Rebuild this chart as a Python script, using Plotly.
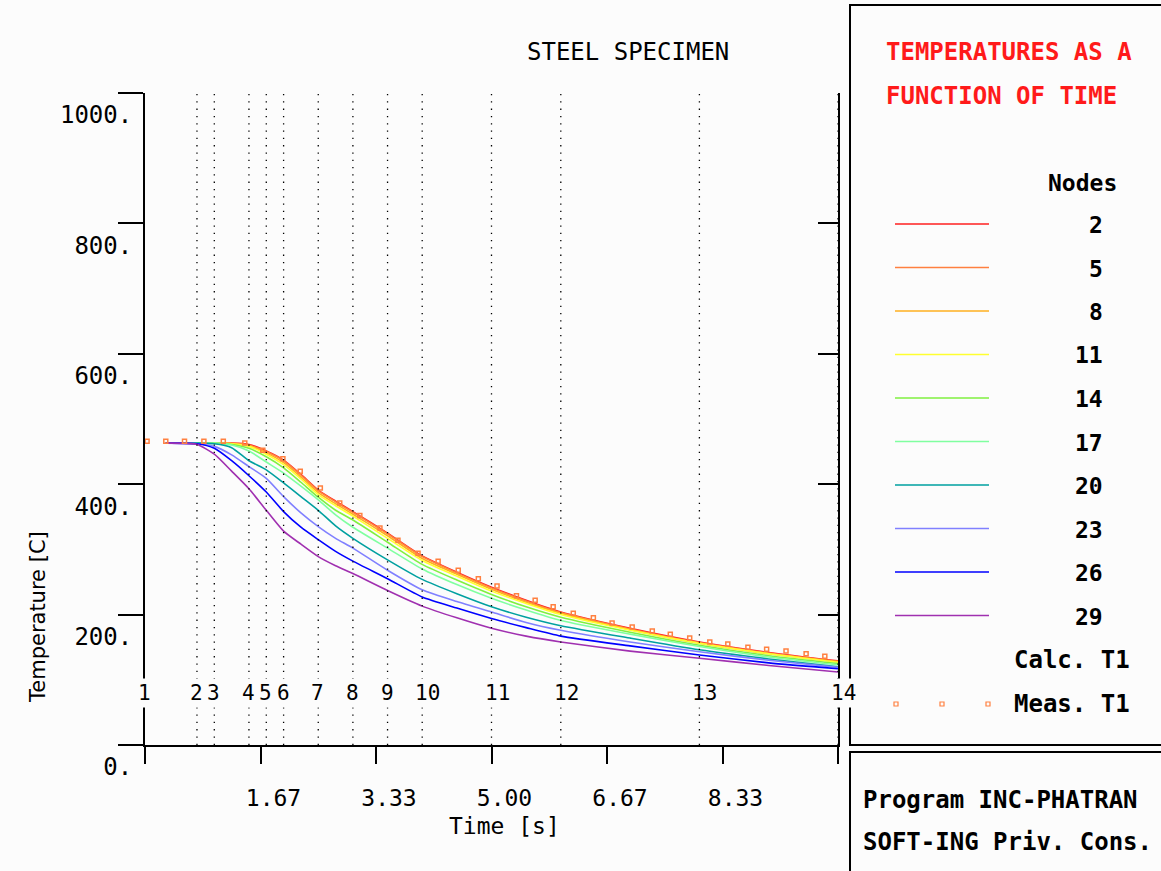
import plotly.graph_objects as go

# ---------------- data ----------------
calc_time = [0.3, 0.75, 1.0, 1.25, 1.5, 1.75, 2.0, 2.25, 2.5, 2.75, 3.0, 3.5, 4.0,
             4.5, 5.0, 5.5, 6.0, 7.0, 8.0, 9.0, 10.0]

node_ids = [2, 5, 8, 11, 14, 17, 20, 23, 26, 29]
node2 = [463, 463, 463, 463, 461, 451, 437, 415, 391, 374, 358, 325, 290, 265, 242, 222, 204, 179, 158, 142, 129]
node5 = [463, 463, 463, 463, 460, 450, 436, 414, 390, 373, 357, 324, 289, 264, 241, 221, 203, 178, 157, 141, 128]
node8 = [463, 463, 463, 462, 459, 448, 433, 411, 387, 370, 354, 321, 286, 262, 239, 219, 202, 177, 156, 140, 128]
node11 = [463, 463, 463, 462, 458, 446, 430, 408, 384, 367, 351, 317, 283, 259, 236, 217, 200, 176, 156, 140, 127]
node14 = [463, 463, 463, 461, 455, 442, 425, 403, 380, 360, 345, 311, 277, 253, 231, 212, 196, 173, 153, 137, 125]
node17 = [463, 463, 463, 460, 451, 434, 417, 397, 376, 353, 334, 302, 270, 246, 225, 207, 191, 170, 151, 135, 123]
node20 = [463, 463, 462, 456, 436, 422, 402, 381, 360, 336, 317, 284, 254, 232, 212, 196, 183, 164, 146, 132, 120]
node23 = [463, 462, 458, 445, 427, 409, 381, 356, 335, 317, 302, 268, 238, 220, 204, 188, 176, 158, 143, 130, 119]
node26 = [463, 462, 455, 436, 413, 388, 358, 334, 315, 297, 282, 255, 227, 210, 194, 180, 167, 152, 138, 126, 117]
node29 = [463, 461, 446, 420, 393, 360, 328, 308, 289, 275, 263, 237, 213, 195, 179, 167, 158, 144, 133, 122, 112]
node_series = [node2, node5, node8, node11, node14, node17, node20, node23, node26, node29]

node_colors = ["#ff2020", "#ff8040", "#ffb020", "#ffff30", "#80f040",
               "#80ffa0", "#00a0a0", "#8080ff", "#0000ff", "#a030b0"]

meas_time = [0.03, 0.30, 0.57, 0.85, 1.13, 1.44, 1.70, 1.99, 2.24, 2.53, 2.81, 3.10,
             3.39, 3.65, 3.94, 4.23, 4.52, 4.81, 5.08, 5.36, 5.63, 5.89, 6.18, 6.47,
             6.74, 7.03, 7.32, 7.58, 7.86, 8.15, 8.41, 8.70, 8.97, 9.25, 9.54, 9.81]
meas_T1 = [466, 466, 466, 466, 466, 463, 452, 439, 420, 394, 371, 352, 333, 314, 294,
           282, 268, 255, 244, 229, 222, 212, 202, 195, 187, 181, 175, 170, 164, 158,
           155, 150, 147, 144, 140, 136]
meas_color = "#ff8040"

step_numbers = [1, 2, 3, 4, 5, 6, 7, 8, 9, 10, 11, 12, 13, 14]
step_times = [0.0, 0.75, 1.0, 1.5, 1.75, 2.0, 2.5, 3.0, 3.5, 4.0, 5.0, 6.0, 8.0, 10.0]

x_tickvals = [0.0, 1.6667, 3.3333, 5.0, 6.6667, 8.3333, 10.0]
x_ticktext = ["", "1.67", "3.33", "5.00", "6.67", "8.33", ""]
y_tickvals = [0, 200, 400, 600, 800, 1000]
y_ticktext = ["0.", "200.", "400.", "600.", "800.", "1000."]

# ---------------- layout helpers ----------------
W, H = 1161, 871
L, R, T, B = 145, 838, 93, 745          # plot area in pixels
BG = "#fcfcfc"
MONO = "DejaVu Sans Mono"


def px(x):
    return (x - L) / (R - L)


def py(y):
    return (B - y) / (B - T)


fig = go.Figure()

for nid, ser, col in zip(node_ids, node_series, node_colors):
    fig.add_trace(go.Scatter(x=calc_time, y=ser, mode="lines", name=str(nid),
                             line=dict(color=col, width=1.6, shape="spline", smoothing=0.6),
                             showlegend=False, hoverinfo="skip"))

fig.add_trace(go.Scatter(x=meas_time, y=meas_T1, mode="markers", name="Meas. T1",
                         marker=dict(symbol="square-open", size=4, color=meas_color,
                                     line=dict(width=1.5, color=meas_color)),
                         showlegend=False, hoverinfo="skip"))

# invisible trace to activate the right-hand axis
fig.add_trace(go.Scatter(x=[0], y=[0], yaxis="y2", mode="markers",
                         marker=dict(opacity=0), showlegend=False, hoverinfo="skip"))

shapes = []
annotations = []

# dotted vertical lines at the time steps + step numbers
for n, t in zip(step_numbers, step_times):
    if t > 0:
        shapes.append(dict(type="line", xref="x", yref="y", x0=t, x1=t, y0=0, y1=1000,
                           line=dict(color="black", width=1.3, dash="1.3px,6px"),
                           layer="above"))
    annotations.append(dict(xref="x", yref="paper", x=t, y=py(693), text=str(n),
                            showarrow=False, xanchor="left", yanchor="middle", xshift=-10,
                            font=dict(family=MONO, size=21, color="black"),
                            bgcolor=BG, borderpad=2))

# title and axis titles
annotations.append(dict(xref="paper", yref="paper", x=px(628), y=py(52), text="STEEL SPECIMEN",
                        showarrow=False, xanchor="center", yanchor="middle",
                        font=dict(family=MONO, size=24, color="black")))
annotations.append(dict(xref="paper", yref="paper", x=px(505), y=py(826), text="Time [s]",
                        showarrow=False, xanchor="center", yanchor="middle",
                        font=dict(family=MONO, size=23, color="black")))
annotations.append(dict(xref="paper", yref="paper", x=px(38), y=py(617), text="Temperature [C]",
                        showarrow=False, xanchor="center", yanchor="middle", textangle=-90,
                        font=dict(family="DejaVu Sans", size=21, color="black")))

# legend panel
shapes.append(dict(type="rect", xref="paper", yref="paper", x0=px(850), x1=px(1165),
                   y0=py(5), y1=py(745), line=dict(color="black", width=2), fillcolor=BG))
shapes.append(dict(type="rect", xref="paper", yref="paper", x0=px(850), x1=px(1165),
                   y0=py(752), y1=py(875), line=dict(color="black", width=2), fillcolor=BG))

annotations.append(dict(xref="paper", yref="paper", x=px(884), y=py(52), text="TEMPERATURES AS A",
                        showarrow=False, xanchor="left", yanchor="middle",
                        font=dict(family=MONO, size=24, color="#ff1a1a", weight="bold")))
annotations.append(dict(xref="paper", yref="paper", x=px(884), y=py(96), text="FUNCTION OF TIME",
                        showarrow=False, xanchor="left", yanchor="middle",
                        font=dict(family=MONO, size=24, color="#ff1a1a", weight="bold")))
annotations.append(dict(xref="paper", yref="paper", x=px(1119), y=py(183), text="Nodes",
                        showarrow=False, xanchor="right", yanchor="middle",
                        font=dict(family=MONO, size=23, color="black", weight="bold")))

leg_y0, leg_dy = 224, 43.5
for i, (nid, col) in enumerate(zip(node_ids, node_colors)):
    yy = leg_y0 + i * leg_dy
    shapes.append(dict(type="line", xref="paper", yref="paper", x0=px(895), x1=px(989),
                       y0=py(yy), y1=py(yy), line=dict(color=col, width=1.6)))
    annotations.append(dict(xref="paper", yref="paper", x=px(1105), y=py(yy + 1), text=str(nid),
                            showarrow=False, xanchor="right", yanchor="middle",
                            font=dict(family=MONO, size=23, color="black", weight="bold")))

annotations.append(dict(xref="paper", yref="paper", x=px(1132), y=py(660), text="Calc. T1",
                        showarrow=False, xanchor="right", yanchor="middle",
                        font=dict(family=MONO, size=24, color="black", weight="bold")))
annotations.append(dict(xref="paper", yref="paper", x=px(1132), y=py(704), text="Meas. T1",
                        showarrow=False, xanchor="right", yanchor="middle",
                        font=dict(family=MONO, size=24, color="black", weight="bold")))
for sx in [896, 942, 988]:
    shapes.append(dict(type="rect", xref="paper", yref="paper", x0=px(sx - 2), x1=px(sx + 2),
                       y0=py(702), y1=py(706), line=dict(color=meas_color, width=1.2)))

annotations.append(dict(xref="paper", yref="paper", x=px(861), y=py(800), text="Program INC-PHATRAN",
                        showarrow=False, xanchor="left", yanchor="middle",
                        font=dict(family=MONO, size=24, color="black", weight="bold")))
annotations.append(dict(xref="paper", yref="paper", x=px(861), y=py(842), text="SOFT-ING Priv. Cons.",
                        showarrow=False, xanchor="left", yanchor="middle",
                        font=dict(family=MONO, size=24, color="black", weight="bold")))

fig.update_layout(
    width=W, height=H,
    margin=dict(l=L, r=W - R, t=T, b=H - B, pad=0),
    paper_bgcolor=BG, plot_bgcolor=BG,
    showlegend=False,
    xaxis=dict(range=[0, 10], showgrid=False, zeroline=False,
               showline=True, linecolor="black", linewidth=2,
               ticks="outside", ticklen=17, tickwidth=2, tickcolor="black",
               tickvals=x_tickvals, ticktext=x_ticktext,
               ticklabelshift=13, ticklabelstandoff=14,
               tickfont=dict(family=MONO, size=23, color="black")),
    yaxis=dict(range=[0, 1000], showgrid=False, zeroline=False,
               showline=True, linecolor="black", linewidth=2,
               ticks="outside", ticklen=25, tickwidth=2, tickcolor="black",
               tickvals=y_tickvals, ticktext=y_ticktext,
               ticklabelshift=22, ticklabelstandoff=-19,
               tickfont=dict(family=MONO, size=24, color="black")),
    yaxis2=dict(range=[0, 1000], overlaying="y", side="right", showgrid=False, zeroline=False,
                showline=True, linecolor="black", linewidth=2,
                ticks="inside", ticklen=20, tickwidth=2, tickcolor="black",
                tickvals=y_tickvals, showticklabels=False),
    shapes=shapes,
    annotations=annotations,
)

fig.write_html("out.html", config={"displayModeBar": False},
               post_script="document.body.style.margin='0';document.body.style.background='#fcfcfc';")
